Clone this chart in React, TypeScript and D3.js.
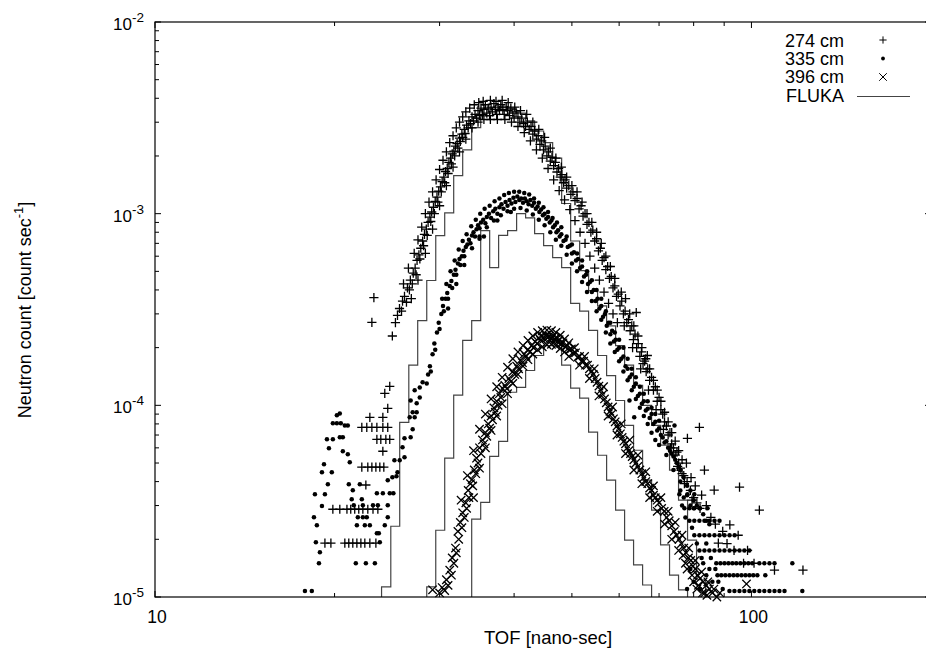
import React from 'react';
import * as d3 from 'd3';

// ---------- data (TOF in ns, neutron count in count/sec) ----------
const data274: [number, number][] = [
  [19.27,1.91e-5],[19.72,1.91e-5],[20.81,1.91e-5],[21.13,1.91e-5],[21.46,1.91e-5],[21.8,1.91e-5],[22.14,1.91e-5],[22.48,1.91e-5],[22.92,1.91e-5],[23.46,1.91e-5],
  [19.87,2.87e-5],[20.41,2.87e-5],[20.98,2.87e-5],[21.29,2.87e-5],[21.62,2.87e-5],[21.96,2.87e-5],[22.31,2.87e-5],[22.74,2.87e-5],[23.2,2.87e-5],[23.64,2.87e-5],
  [22.57,3.84e-5],
  [22.22,4.76e-5],[22.74,4.76e-5],[23.1,4.76e-5],[23.46,4.76e-5],[23.82,4.76e-5],[24.19,4.76e-5],
  [24.1,5.76e-5],
  [23.55,6.65e-5],[23.91,6.65e-5],[24.38,6.65e-5],[24.75,6.65e-5],
  [22.22,7.68e-5],[22.65,7.68e-5],[23.1,7.68e-5],[23.55,7.68e-5],[24.1,7.68e-5],[24.56,7.68e-5],
  [22.92,8.66e-5],[24.1,8.66e-5],[24.56,9.64e-5],[24.28,1.155e-4],[24.75,1.256e-4],
  [23.1,2.71e-4],[23.28,3.65e-4],
  [25.0,2.3e-4],[25.3,2.7e-4],[25.5,2.95e-4],[25.7,3.2e-4],[25.9,3.1e-4],[26.0,3.5e-4],[26.2,3.7e-4],[26.4,3.45e-4],[26.5,4.1e-4],[26.7,4.0e-4],
  [26.8,4.5e-4],[27.0,4.3e-4],[27.1,4.9e-4],[27.3,5.2e-4],[27.4,4.8e-4],[27.5,5.7e-4],[27.7,6.1e-4],[27.8,5.8e-4],[27.9,6.6e-4],[28.1,7.2e-4],
  [28.2,6.8e-4],[28.3,7.8e-4],[28.5,8.3e-4],[28.6,7.7e-4],[28.7,9.0e-4],[28.9,9.6e-4],[29.0,9.1e-4],[29.1,1.02e-3],[29.3,1.08e-3],[29.4,1.0e-3],
  [29.5,1.16e-3],[29.7,1.22e-3],[29.8,1.15e-3],[29.9,1.31e-3],[30.1,1.38e-3],[30.2,1.30e-3],[30.3,1.47e-3],[30.5,1.55e-3],[30.6,1.45e-3],[30.7,1.66e-3],
  [30.9,1.72e-3],[31.0,1.62e-3],[31.1,1.85e-3],[31.3,1.95e-3],[31.4,1.82e-3],[31.5,2.05e-3],[31.7,2.12e-3],[31.8,2.0e-3],[31.9,2.25e-3],[32.1,2.32e-3],
  [32.2,2.2e-3],[32.4,2.48e-3],[32.5,2.38e-3],[32.7,2.6e-3],[32.8,2.5e-3],[33.0,2.75e-3],[33.1,2.62e-3],[33.3,2.9e-3],[33.5,2.8e-3],[33.6,3.05e-3],
  [33.8,2.95e-3],[34.0,3.2e-3],[34.2,3.05e-3],[34.4,3.3e-3],[34.6,3.15e-3],[34.8,3.45e-3],[35.0,3.25e-3],[35.2,3.55e-3],[35.4,3.3e-3],[35.6,3.5e-3],
  [35.8,3.7e-3],[36.0,3.35e-3],[36.2,3.55e-3],[36.4,3.25e-3],[36.6,3.6e-3],[36.8,3.4e-3],[37.0,3.75e-3],[37.2,3.5e-3],[37.4,3.3e-3],[37.6,3.6e-3],
  [37.8,3.45e-3],[38.0,3.7e-3],[38.3,3.5e-3],[38.5,3.3e-3],[38.8,3.6e-3],[39.0,3.45e-3],[39.3,3.25e-3],[39.5,3.55e-3],[39.8,3.35e-3],[40.0,3.15e-3],
  [40.3,3.4e-3],[40.6,3.2e-3],[40.9,3.0e-3],[41.2,3.15e-3],[41.5,2.95e-3],[41.8,2.85e-3],[42.1,3.0e-3],[42.4,2.75e-3],[42.7,2.85e-3],[43.0,2.6e-3],
  [43.3,2.7e-3],[43.6,2.45e-3],[43.9,2.55e-3],[44.2,2.3e-3],[44.5,2.4e-3],[44.8,2.15e-3],[45.1,2.25e-3],[45.4,2.0e-3],[45.7,2.1e-3],[46.0,1.88e-3],
  [46.3,1.97e-3],[46.6,1.78e-3],[46.9,1.85e-3],[47.2,1.65e-3],[47.5,1.72e-3],[47.8,1.55e-3],[48.1,1.6e-3],[48.4,1.45e-3],[48.7,1.5e-3],[49.0,1.36e-3],
  [49.4,1.4e-3],[49.8,1.26e-3],[50.2,1.3e-3],[50.6,1.17e-3],[51.0,1.2e-3],[51.4,1.06e-3],[51.8,1.1e-3],[52.2,9.7e-4],[52.6,1.0e-3],[53.0,8.8e-4],
  [53.4,9.0e-4],[53.8,8.0e-4],[54.2,8.2e-4],[54.6,7.2e-4],[55.0,7.4e-4],[55.4,6.4e-4],[55.8,6.6e-4],[56.2,5.7e-4],[56.6,5.9e-4],[57.0,5.1e-4],
  [57.4,5.3e-4],[57.8,4.6e-4],[58.2,4.7e-4],[58.6,4.1e-4],[59.0,4.2e-4],[59.4,3.7e-4],[59.8,3.8e-4],[60.2,3.3e-4],[60.6,3.5e-4],[61.0,3.0e-4],
  [61.4,3.1e-4],[61.8,2.7e-4],[62.2,2.8e-4],[62.6,2.45e-4],[63.0,2.6e-4],[63.4,2.2e-4],[63.8,2.35e-4],[64.2,2.0e-4],[64.6,2.1e-4],[65.0,1.8e-4],
  [65.4,1.9e-4],[65.8,1.65e-4],[66.2,1.7e-4],[66.6,1.5e-4],[67.0,1.55e-4],[67.5,1.35e-4],[68.0,1.4e-4],[68.5,1.2e-4],[69.0,1.25e-4],[69.5,1.05e-4],
  [70.0,1.1e-4],[70.5,9.5e-5],[71.0,9.0e-5],[71.5,8.2e-5],[72.0,7.8e-5],[72.5,7.0e-5],[73.0,7.2e-5],[73.5,6.3e-5],[74.0,6.0e-5],[74.5,5.5e-5],
  [75.0,5.7e-5],[75.5,5.0e-5],[76.0,4.7e-5],[77.0,4.3e-5],[78.0,4.0e-5],[79.0,3.6e-5],[80.0,3.3e-5],[81.0,3.1e-5],[82.0,2.9e-5],
  [60.5,3.9e-4],[61.5,3.6e-4],[62.5,3.0e-4],[63.5,2.6e-4],[64.5,2.3e-4],[65.5,2.0e-4],[66.5,1.75e-4],[67.5,1.55e-4],[68.5,1.35e-4],[69.5,1.2e-4],
  [70.5,1.05e-4],[71.5,9.2e-5],[72.5,8.2e-5],[73.5,7.2e-5],[74.5,6.5e-5],[75.5,5.8e-5],[76.5,5.2e-5],
  [61.2,2.6e-4],[63.2,2.0e-4],[65.2,1.55e-4],[67.2,1.2e-4],[69.2,9.5e-5],[71.2,7.5e-5],[73.2,6.0e-5],[75.2,4.8e-5],[77.2,3.9e-5],[79.5,3.2e-5],
  [26.1,4.3e-4],[26.6,5.2e-4],[27.2,6.2e-4],[27.6,7.3e-4],[28.0,8.5e-4],[28.4,1.0e-3],[28.8,1.15e-3],[29.2,1.3e-3],[29.6,1.5e-3],[30.0,1.7e-3],
  [30.4,1.9e-3],[30.8,2.1e-3],[31.2,2.35e-3],[31.6,2.55e-3],[32.0,2.8e-3],[32.4,3.0e-3],[32.8,3.2e-3],[33.2,3.4e-3],[33.7,3.55e-3],[34.3,3.7e-3],
  [34.9,3.8e-3],[35.5,3.85e-3],[36.5,3.9e-3],[37.3,3.85e-3],[38.2,3.9e-3],[39.1,3.8e-3],[40.1,3.6e-3],[41.0,3.45e-3],[42.0,3.3e-3],[43.0,3.0e-3],
  [44.0,2.75e-3],[45.0,2.5e-3],[46.0,2.2e-3],[47.0,1.95e-3],[48.0,1.75e-3],[49.0,1.55e-3],[50.0,1.4e-3],[51.0,1.3e-3],[52.0,1.15e-3],[53.0,1.0e-3],
  [54.0,9.0e-4],[55.0,8.0e-4],[56.0,7.0e-4],[57.0,6.0e-4],[58.0,5.3e-4],[59.0,4.6e-4],
  [26.9,3.6e-4],[27.6,4.5e-4],[28.4,6.2e-4],[29.2,8.3e-4],[30.0,1.1e-3],[30.8,1.4e-3],[31.6,1.75e-3],[32.4,2.1e-3],[33.2,2.45e-3],[34.0,2.8e-3],
  [34.8,3.0e-3],[35.6,3.1e-3],[36.5,3.1e-3],[37.5,3.1e-3],[38.6,3.1e-3],[39.6,3.0e-3],[40.6,2.85e-3],[41.6,2.65e-3],[42.6,2.4e-3],[43.6,2.15e-3],
  [44.6,1.95e-3],[45.6,1.72e-3],[46.6,1.5e-3],[47.6,1.32e-3],[48.6,1.18e-3],[49.6,1.05e-3],[50.6,9.2e-4],[51.6,8.0e-4],[52.6,7.0e-4],[53.6,6.0e-4],
  [54.6,5.2e-4],[55.6,4.5e-4],[56.6,3.9e-4],[57.6,3.4e-4],[58.6,3.0e-4],[59.6,2.7e-4],
  [81.8,7.68e-5],[78.1,6.73e-5],[64.1,3.05e-4],[66.9,1.82e-4],[83.4,4.59e-5],[86.6,3.61e-5],[95.5,3.74e-5],[103.1,2.84e-5],
  [109.3,1.38e-5],[122.0,1.38e-5],[88.0,1.91e-5],[92.0,2.38e-5],[97.0,1.5e-5],
  [76.5,4.4e-5],[77.8,5.0e-5],[79.2,4.2e-5],[80.5,3.8e-5],[82.5,3.4e-5],[84.0,3.0e-5],[85.5,2.6e-5],[87.0,2.4e-5],[89.5,2.2e-5],[91.0,1.9e-5],
  [93.5,1.75e-5],[95.0,2.1e-5],[98.5,1.75e-5],[101.0,1.5e-5],
];

const data335: [number, number][] = [
  [17.84,1.075e-5],[18.32,1.075e-5],[18.47,2.61e-5],[18.61,1.93e-5],[18.68,2.37e-5],[18.9,1.71e-5],[18.83,1.5e-5],[19.05,2.98e-5],
  [18.54,3.44e-5],[19.27,3.44e-5],[19.05,4.48e-5],[19.79,4.48e-5],[19.2,4.93e-5],[19.49,3.87e-5],[19.57,5.97e-5],
  [19.42,6.65e-5],[19.87,6.65e-5],[20.41,6.81e-5],[20.65,6.81e-5],
  [19.87,8.06e-5],[20.18,8.06e-5],[20.49,8.06e-5],[20.81,7.86e-5],[21.05,7.86e-5],[20.18,8.87e-5],[20.41,9.07e-5],
  [20.65,5.76e-5],[21.05,5.55e-5],[21.21,5.05e-5],[21.13,3.87e-5],[22.05,3.87e-5],[21.46,3.61e-5],[21.37,3.24e-5],[22.22,3.24e-5],
  [21.54,3.01e-5],[22.31,3.01e-5],[23.2,3.01e-5],[21.88,2.61e-5],[22.31,2.61e-5],[22.65,2.61e-5],[21.8,2.37e-5],[22.48,2.37e-5],[22.92,2.37e-5],
  [23.82,1.93e-5],[21.71,1.5e-5],[22.57,1.5e-5],[23.37,1.5e-5],
  [23.55,3.48e-5],[24.1,3.48e-5],[24.75,3.48e-5],[25.1,3.48e-5],[23.64,3.01e-5],[24.56,3.01e-5],[24.56,2.61e-5],[24.28,2.37e-5],[23.55,2.15e-5],[23.73,2.15e-5],
  [24.56,4.07e-5],[25.0,4.21e-5],[25.4,4.26e-5],[25.5,4.48e-5],[25.2,5.17e-5],[25.72,5.17e-5],[26.2,5.36e-5],[26.0,6.04e-5],[26.2,6.73e-5],[26.83,6.81e-5],
  [27.04,7.5e-5],[26.73,8.66e-5],[27.04,9.2e-5],[27.46,9.2e-5],[27.25,8.66e-5],[26.83,1.06e-4],[27.46,1.025e-4],[27.79,1.1e-4],[27.25,1.197e-4],[27.79,1.24e-4],
  [28.1,1.32e-4],[28.55,1.3e-4],
  [28.7,1.45e-4],[28.9,1.6e-4],[29.0,1.5e-4],[29.2,1.85e-4],[29.4,2.1e-4],[29.5,1.95e-4],[29.7,2.4e-4],[29.9,2.7e-4],[30.0,2.5e-4],[30.2,3.0e-4],
  [30.4,3.3e-4],[30.5,3.1e-4],[30.7,3.6e-4],[30.9,3.85e-4],[31.0,3.6e-4],[31.2,4.2e-4],[31.4,4.45e-4],[31.5,4.1e-4],[31.7,4.8e-4],[31.9,5.1e-4],
  [32.0,4.8e-4],[32.2,5.5e-4],[32.4,5.8e-4],[32.5,5.4e-4],[32.7,6.0e-4],[32.9,6.4e-4],[33.0,6.0e-4],[33.2,6.7e-4],[33.4,6.9e-4],[33.6,7.3e-4],
  [33.8,7.0e-4],[34.0,7.7e-4],[34.2,8.0e-4],[34.4,7.6e-4],[34.6,8.3e-4],[34.8,8.7e-4],[35.0,8.4e-4],[35.2,9.0e-4],[35.5,9.3e-4],[35.8,8.9e-4],
  [36.0,9.6e-4],[36.3,1.0e-3],[36.6,9.5e-4],[36.9,1.03e-3],[37.2,1.06e-3],[37.5,1.0e-3],[37.8,1.08e-3],[38.1,1.12e-3],[38.4,1.06e-3],[38.7,1.15e-3],
  [39.0,1.1e-3],[39.3,1.18e-3],[39.6,1.13e-3],[39.9,1.21e-3],[40.2,1.15e-3],[40.5,1.23e-3],[40.8,1.18e-3],[41.1,1.2e-3],[41.4,1.14e-3],[41.7,1.2e-3],
  [42.0,1.16e-3],[42.3,1.12e-3],[42.6,1.18e-3],[42.9,1.1e-3],[43.2,1.14e-3],[43.5,1.06e-3],[43.8,1.09e-3],[44.1,1.02e-3],[44.4,1.05e-3],[44.7,9.8e-4],
  [45.0,1.0e-3],[45.3,9.4e-4],[45.6,9.6e-4],[45.9,9.0e-4],[46.2,9.2e-4],[46.5,8.5e-4],[46.8,8.7e-4],[47.1,8.0e-4],[47.4,8.2e-4],[47.7,7.6e-4],
  [48.0,7.8e-4],[48.4,7.2e-4],[48.8,7.3e-4],[49.2,6.7e-4],[49.6,6.8e-4],[50.0,6.2e-4],[50.4,6.3e-4],[50.8,5.7e-4],[51.2,5.8e-4],[51.6,5.2e-4],
  [52.0,5.3e-4],[52.4,4.7e-4],[52.8,4.8e-4],[53.2,4.3e-4],[53.6,4.4e-4],[54.0,3.9e-4],[54.4,4.0e-4],[54.8,3.5e-4],[55.2,3.6e-4],[55.6,3.2e-4],
  [56.0,3.3e-4],[56.4,2.9e-4],[56.8,3.0e-4],[57.2,2.6e-4],[57.6,2.7e-4],[58.0,2.35e-4],[58.4,2.45e-4],[58.8,2.15e-4],[59.2,2.2e-4],[59.6,1.95e-4],
  [60.0,2.0e-4],[60.5,1.75e-4],[61.0,1.8e-4],[61.5,1.6e-4],[62.0,1.55e-4],[62.5,1.4e-4],[63.0,1.45e-4],[63.5,1.25e-4],[64.0,1.3e-4],[64.5,1.12e-4],
  [65.0,1.15e-4],[65.5,1.02e-4],[66.0,1.05e-4],[66.5,9.4e-5],[67.0,9.6e-5],[67.5,8.6e-5],[68.0,9.0e-5],[68.5,8.0e-5],[69.0,8.2e-5],[69.5,7.4e-5],
  [70.0,7.6e-5],[70.5,7.0e-5],[71.0,6.8e-5],[71.5,6.4e-5],[72.0,6.5e-5],[72.5,6.0e-5],[73.0,5.8e-5],[73.5,5.6e-5],[74.0,5.4e-5],[74.5,5.2e-5],
  [75.0,5.0e-5],[75.5,4.8e-5],[76.0,4.6e-5],[77.0,4.2e-5],[78.0,3.8e-5],[79.0,3.6e-5],[80.0,3.2e-5],[81.0,3.0e-5],[82.0,2.9e-5],[83.0,2.7e-5],
  [84.0,2.5e-5],[85.0,2.4e-5],
  [30.3,3.6e-4],[30.8,4.3e-4],[31.3,5.0e-4],[31.8,5.7e-4],[32.3,6.5e-4],[32.8,7.2e-4],[33.3,7.8e-4],[33.9,8.6e-4],[34.5,9.3e-4],[35.1,1.0e-3],
  [35.7,1.06e-3],[36.4,1.1e-3],[37.1,1.16e-3],[37.8,1.2e-3],[38.5,1.25e-3],[39.2,1.28e-3],[40.0,1.3e-3],[40.8,1.3e-3],[41.6,1.28e-3],[42.4,1.26e-3],
  [43.2,1.2e-3],[44.0,1.14e-3],[44.8,1.08e-3],[45.6,1.02e-3],[46.4,9.5e-4],[47.2,9.0e-4],[48.0,8.5e-4],[49.0,7.6e-4],[50.0,6.9e-4],[51.0,6.2e-4],
  [52.0,5.7e-4],[53.0,5.0e-4],[54.0,4.5e-4],[55.0,4.0e-4],[56.0,3.6e-4],[57.0,3.1e-4],[58.0,2.7e-4],[59.0,2.4e-4],[60.0,2.2e-4],[61.0,2.0e-4],
  [62.0,1.75e-4],[63.0,1.55e-4],[64.0,1.4e-4],[65.0,1.25e-4],[66.0,1.15e-4],[67.0,1.05e-4],[68.0,9.7e-5],[69.0,9.0e-5],[70.0,8.3e-5],
  [31.0,3.2e-4],[32.0,4.3e-4],[33.0,5.4e-4],[34.0,6.6e-4],[35.0,7.6e-4],[36.0,8.5e-4],[37.0,9.2e-4],[38.0,9.8e-4],[39.0,1.03e-3],[40.0,1.06e-3],
  [41.0,1.07e-3],[42.0,1.04e-3],[43.0,9.9e-4],[44.0,9.3e-4],[45.0,8.7e-4],[46.0,8.0e-4],[47.0,7.3e-4],[48.0,6.8e-4],[49.0,6.1e-4],[50.0,5.5e-4],
  [51.0,5.0e-4],[52.0,4.4e-4],[53.0,3.9e-4],[54.0,3.5e-4],[55.0,3.1e-4],[56.0,2.8e-4],[57.0,2.4e-4],[58.0,2.1e-4],[59.0,1.9e-4],[60.0,1.7e-4],
  [61.0,1.5e-4],[62.0,1.35e-4],[63.0,1.2e-4],[64.0,1.08e-4],[65.0,9.7e-5],[66.0,8.8e-5],[67.0,8.0e-5],[68.0,7.2e-5],[69.0,6.6e-5],[70.0,6.2e-5],
  [72.0,5.5e-5],[74.0,4.6e-5],[76.0,4.0e-5],[78.0,3.4e-5],[80.0,2.9e-5],
  [35.0,7.4e-4],[35.6,7.6e-4],[37.5,9.2e-4],[39.5,1.02e-3],[62.44,1.06e-4],[63.6,8.66e-5],[74.3,7.86e-5],
  [78.0,1.1e-5],[80.0,1.2e-5],[82.0,1.1e-5],[84.0,1.3e-5],[86.0,1.2e-5],[79.0,1.4e-5],[83.0,1.5e-5],[85.0,1.4e-5],
  [76.5,3.0e-5],[77.5,2.6e-5],[79.5,2.3e-5],[81.0,1.9e-5],[82.5,1.6e-5],[84.0,1.9e-5],[85.5,1.6e-5],[87.0,1.4e-5],[88.0,1.2e-5],[89.5,1.1e-5],
  [76.0,3.6e-5],[77.0,3.3e-5],[79.0,3.0e-5],
  [91.86,1.075e-5],[93.65,1.075e-5],[95.48,1.075e-5],[97.3,1.075e-5],[99.2,1.075e-5],[101.1,1.075e-5],[103.1,1.075e-5],[105.1,1.075e-5],[107.2,1.075e-5],[109.3,1.075e-5],[111.4,1.075e-5],[113.6,1.075e-5],[121.7,1.075e-5],
  [87.7,1.3e-5],[89.0,1.3e-5],[90.4,1.3e-5],[91.86,1.3e-5],[93.3,1.3e-5],[94.7,1.3e-5],[96.2,1.3e-5],[97.7,1.3e-5],[99.2,1.3e-5],[100.7,1.3e-5],[102.3,1.3e-5],[105.5,1.3e-5],
  [87.3,1.5e-5],[88.7,1.5e-5],[90.1,1.5e-5],[91.5,1.5e-5],[92.9,1.5e-5],[94.3,1.5e-5],[95.8,1.5e-5],[97.3,1.5e-5],[98.8,1.5e-5],[100.3,1.5e-5],[103.1,1.5e-5],[105.1,1.5e-5],[107.2,1.5e-5],[109.3,1.5e-5],[117.1,1.5e-5],
  [81.8,1.75e-5],[83.4,1.75e-5],[85.0,1.75e-5],[86.7,1.75e-5],[88.4,1.75e-5],[90.1,1.75e-5],[91.9,1.75e-5],[93.7,1.75e-5],[95.5,1.75e-5],[97.3,1.75e-5],[99.2,1.75e-5],
  [80.2,2.1e-5],[81.8,2.1e-5],[83.4,2.1e-5],[85.0,2.1e-5],[86.7,2.1e-5],[88.4,2.1e-5],[90.1,2.1e-5],[91.9,2.1e-5],[93.7,2.1e-5],
  [78.7,2.5e-5],[80.2,2.5e-5],[81.8,2.5e-5],[83.4,2.5e-5],[85.0,2.5e-5],[86.7,2.5e-5],[88.4,2.5e-5],
  [77.2,2.9e-5],[78.7,2.9e-5],[80.2,2.9e-5],[81.8,2.9e-5],[84.4,2.9e-5],
  [75.7,3.44e-5],[78.1,3.44e-5],[80.2,3.44e-5],
];

const data396: [number, number][] = [
  [29.2,1.09e-5],[30.0,1.05e-5],[30.3,1.12e-5],[30.6,1.08e-5],[30.8,1.23e-5],[31.0,1.15e-5],[31.2,1.38e-5],[31.4,1.3e-5],[31.5,1.6e-5],[31.7,1.5e-5],
  [31.9,1.8e-5],[32.0,1.7e-5],[32.2,2.2e-5],[32.3,2.0e-5],[32.5,2.45e-5],[32.7,2.3e-5],[32.8,2.75e-5],[33.0,2.6e-5],[33.2,3.1e-5],[33.3,2.9e-5],
  [33.5,3.6e-5],[33.6,3.3e-5],[33.8,3.9e-5],[34.0,4.1e-5],[34.1,3.8e-5],[34.3,4.6e-5],[34.5,4.4e-5],[34.6,5.3e-5],[34.8,5.0e-5],[35.0,6.0e-5],
  [35.2,5.6e-5],[35.4,6.6e-5],[35.6,6.3e-5],[35.8,7.2e-5],[36.0,6.9e-5],[36.2,8.0e-5],[36.4,7.6e-5],[36.6,8.8e-5],[36.8,8.4e-5],[37.0,9.7e-5],
  [37.2,9.2e-5],[37.4,1.05e-4],[37.6,1.0e-4],[37.8,1.15e-4],[38.0,1.1e-4],[38.3,1.22e-4],[38.6,1.27e-4],[38.9,1.22e-4],[39.2,1.38e-4],[39.5,1.33e-4],
  [39.8,1.5e-4],[40.1,1.45e-4],[40.4,1.6e-4],[40.7,1.55e-4],[41.0,1.72e-4],[41.3,1.67e-4],[41.6,1.85e-4],[41.9,1.8e-4],[42.2,1.95e-4],[42.5,1.9e-4],
  [42.8,2.05e-4],[43.1,2.0e-4],[43.4,2.15e-4],[43.7,2.1e-4],[44.0,2.25e-4],[44.3,2.18e-4],[44.6,2.3e-4],[44.9,2.22e-4],[45.2,2.32e-4],[45.5,2.25e-4],
  [45.8,2.3e-4],[46.1,2.22e-4],[46.4,2.28e-4],[46.7,2.2e-4],[47.0,2.25e-4],[47.3,2.15e-4],[47.6,2.2e-4],[47.9,2.1e-4],[48.3,2.12e-4],[48.7,2.02e-4],
  [49.1,2.05e-4],[49.5,1.95e-4],[49.9,1.97e-4],[50.3,1.87e-4],[50.7,1.88e-4],[51.1,1.78e-4],[51.5,1.8e-4],[51.9,1.7e-4],[52.3,1.7e-4],[52.7,1.62e-4],
  [53.1,1.62e-4],[53.5,1.55e-4],[53.9,1.5e-4],[54.3,1.45e-4],[54.7,1.38e-4],[55.1,1.32e-4],[55.5,1.26e-4],[55.9,1.2e-4],[56.3,1.14e-4],[56.7,1.08e-4],
  [57.1,1.03e-4],[57.5,9.8e-5],[57.9,9.3e-5],[58.3,9.0e-5],[58.7,8.5e-5],[59.1,8.2e-5],[59.5,7.8e-5],[59.9,7.5e-5],[60.3,7.1e-5],[60.7,6.8e-5],
  [61.1,6.5e-5],[61.5,6.3e-5],[61.9,6.0e-5],[62.3,5.8e-5],[62.7,5.6e-5],[63.1,5.4e-5],[63.5,5.2e-5],[64.0,5.0e-5],[64.5,4.8e-5],[65.0,4.6e-5],
  [65.5,4.4e-5],[66.0,4.2e-5],[66.5,4.0e-5],[67.0,3.9e-5],[67.5,3.7e-5],[68.0,3.6e-5],[68.5,3.4e-5],[69.0,3.3e-5],[69.5,3.2e-5],[70.0,3.1e-5],
  [70.7,2.9e-5],[71.4,2.8e-5],[72.1,2.6e-5],[72.8,2.5e-5],[73.5,2.35e-5],[74.2,2.2e-5],[74.9,2.1e-5],[75.6,2.0e-5],[76.3,1.9e-5],[77.0,1.8e-5],
  [77.7,1.7e-5],[78.4,1.6e-5],[79.1,1.55e-5],[79.8,1.45e-5],[80.5,1.4e-5],[81.2,1.3e-5],[82.0,1.25e-5],[83.0,1.2e-5],[84.0,1.15e-5],[85.0,1.1e-5],
  [86.0,1.05e-5],[87.5,1.0e-5],[98.1,1.17e-5],
  [50.5,2.0e-4],[52.5,1.8e-4],[54.5,1.55e-4],[56.5,1.25e-4],[58.5,9.8e-5],[60.5,8.0e-5],[62.5,6.6e-5],[64.5,5.5e-5],[66.5,4.5e-5],[68.5,3.8e-5],
  [70.5,3.3e-5],[72.5,2.8e-5],[74.5,2.45e-5],[76.5,2.1e-5],[78.5,1.8e-5],[80.5,1.55e-5],[82.5,1.35e-5],[84.5,1.2e-5],
  [51.5,1.62e-4],[53.5,1.38e-4],[55.5,1.12e-4],[57.5,8.8e-5],[59.5,7.0e-5],[61.5,5.6e-5],[63.5,4.6e-5],[65.5,3.9e-5],[67.5,3.3e-5],[69.5,2.8e-5],
  [71.5,2.4e-5],[73.5,2.0e-5],[75.5,1.75e-5],[77.5,1.5e-5],[79.5,1.3e-5],[81.5,1.15e-5],[83.5,1.05e-5],
  [32.6,3.2e-5],[33.4,4.3e-5],[34.2,5.8e-5],[35.0,7.5e-5],[35.8,9.0e-5],[36.6,1.08e-4],[37.4,1.25e-4],[38.2,1.4e-4],[39.0,1.58e-4],[39.8,1.75e-4],
  [40.6,1.9e-4],[41.4,2.05e-4],[42.2,2.18e-4],[43.0,2.3e-4],[43.8,2.4e-4],[44.6,2.45e-4],[45.4,2.47e-4],[46.2,2.45e-4],[47.0,2.4e-4],[47.8,2.32e-4],
  [48.6,2.22e-4],[49.4,2.12e-4],
  [34.2,3.3e-5],[35.0,4.7e-5],[35.8,6.0e-5],[36.6,7.4e-5],[37.4,8.8e-5],[38.2,1.02e-4],[39.0,1.15e-4],[39.8,1.3e-4],[40.6,1.45e-4],[41.4,1.6e-4],
  [42.2,1.73e-4],[43.0,1.85e-4],[43.8,1.95e-4],[44.6,2.02e-4],[45.4,2.07e-4],[46.2,2.08e-4],[47.0,2.05e-4],[47.8,1.98e-4],[48.6,1.9e-4],[49.4,1.8e-4],
  [80.0,1.2e-5],[81.0,1.1e-5],[82.8,1.05e-5],[84.2,1.02e-5],[86.5,1.1e-5],[88.5,1.05e-5],[78.0,1.4e-5],[76.8,1.65e-5],
];

// FLUKA histogram bin edges (ns) and bin contents
const flukaEdges = [23.98,24.85,25.72,26.64,27.57,28.55,29.56,30.60,31.68,32.80,33.96,35.16,36.40,37.68,39.01,40.39,41.82,43.30,44.83,46.42,48.06,49.76,51.52,53.33,55.21,57.17,59.19,61.28,63.44,65.69,68.01,70.41,72.89,75.47,78.14,80.90,83.75];
const fluka274First = 0;
const fluka274 = [1.13e-5,2.34e-5,8.15e-5,1.62e-4,2.77e-4,4.48e-4,7.68e-4,1.01e-3,1.58e-3,2.15e-3,2.81e-3,3.24e-3,3.5e-3,3.6e-3,3.5e-3,3.35e-3,3.05e-3,2.7e-3,2.35e-3,1.95e-3,1.13e-3,7.2e-4,5.05e-4,3.97e-4,3.3e-4,2.6e-4,2.05e-4,1.62e-4,1.27e-4,1.0e-4,7.86e-5,6.2e-5,4.59e-5,3.2e-5,1.98e-5,1.23e-5];
const fluka335First = 5;
const fluka335 = [1.13e-5,2.23e-5,5.3e-5,1.13e-4,2.18e-4,2.77e-4,8.16e-4,5.23e-4,7.7e-4,8.16e-4,1.0e-3,9.5e-4,7.87e-4,6.81e-4,5.9e-4,5.23e-4,3.4e-4,3.1e-4,2.46e-4,1.82e-4,1.43e-4,1.06e-4,7.86e-5,5.83e-5,4.07e-5,2.84e-5,1.87e-5,1.3e-5,1.09e-5];
const fluka396First = 10;
const fluka396 = [2.55e-5,3.12e-5,5.42e-5,6.49e-5,1.17e-4,1.24e-4,1.52e-4,1.82e-4,2.05e-4,2.18e-4,1.62e-4,1.23e-4,1.09e-4,7.24e-5,5.49e-5,4.07e-5,2.84e-5,1.98e-5,1.47e-5,1.155e-5];

const xMajor = [10, 100];
const xMinor = [20, 30, 40, 50, 60, 70, 80, 90, 200];
const yMajorExp = [-5, -4, -3, -2];
const legendLabels = ['274 cm', '335 cm', '396 cm', 'FLUKA'];
const xTitle = 'TOF [nano-sec]';
const yTitle = 'Neutron count [count sec';

// ---------- layout ----------
const W = 926, H = 660;
const L = 155, T = 22, R = 931, B = 597;
const FONT = '"Liberation Sans", Arial, Helvetica, sans-serif';

const x = d3.scaleLog().domain([10, 200]).range([L, R]);
const y = d3.scaleLog().domain([1e-5, 1e-2]).range([B, T]);

function histPath(first: number, vals: number[]) {
  const pts: [number, number][] = [[flukaEdges[first], 1e-5]];
  vals.forEach((v, i) => pts.push([flukaEdges[first + i], v]));
  pts.push([flukaEdges[first + vals.length], vals[vals.length - 1]]);
  pts.push([flukaEdges[first + vals.length], 1e-5]);
  return d3.line<[number, number]>().x(d => x(d[0])).y(d => y(d[1])).curve(d3.curveStepAfter)(pts) || '';
}

const plusPath = (s: number) => `M${-s},0H${s}M0,${-s}V${s}`;
const crossPath = (s: number) => `M${-s},${-s}L${s},${s}M${-s},${s}L${s},${-s}`;

const inside = (d: [number, number]) => d[1] >= 1e-5 && d[1] <= 1e-2 && d[0] >= 10 && d[0] <= 200;

export default function App() {
  const yMinor: number[] = [];
  yMajorExp.slice(0, 3).forEach(e => { for (let k = 2; k <= 9; k++) yMinor.push(k * Math.pow(10, e)); });
  const histColor = '#444';
  return (
    <div style={{ position: 'absolute', left: 0, top: 0 }}>
      <svg width={W} height={H} style={{ display: 'block', background: '#fff' }} fontFamily={FONT}>
        <defs>
          <clipPath id="plotclip"><rect x={L} y={T} width={R - L} height={B - T} /></clipPath>
        </defs>
        <g clipPath="url(#plotclip)" fill="none" stroke={histColor} strokeWidth={1.2}>
          <path d={histPath(fluka274First, fluka274)} />
          <path d={histPath(fluka335First, fluka335)} />
          <path d={histPath(fluka396First, fluka396)} />
        </g>
        <g stroke="#000" strokeWidth={1.3} fill="none">
          {data274.filter(inside).map((d, i) => (
            <path key={'a' + i} d={plusPath(4.6)} transform={`translate(${x(d[0])},${y(d[1])})`} />
          ))}
          {data396.filter(inside).map((d, i) => (
            <path key={'c' + i} d={crossPath(4.2)} transform={`translate(${x(d[0])},${y(d[1])})`} />
          ))}
        </g>
        <g fill="#000">
          {data335.filter(inside).map((d, i) => (
            <circle key={'b' + i} cx={x(d[0])} cy={y(d[1])} r={2.25} />
          ))}
        </g>
        <rect x={L} y={T} width={R - L} height={B - T} fill="none" stroke="#000" strokeWidth={1.2} />
        <g stroke="#000" strokeWidth={1}>
          {xMajor.map(v => (
            <g key={'xm' + v}>
              <line x1={x(v)} x2={x(v)} y1={B} y2={B - 6} />
              <line x1={x(v)} x2={x(v)} y1={T} y2={T + 6} />
            </g>
          ))}
          {xMinor.map(v => (
            <g key={'xn' + v}>
              <line x1={x(v)} x2={x(v)} y1={B} y2={B - 4} />
              <line x1={x(v)} x2={x(v)} y1={T} y2={T + 4} />
            </g>
          ))}
          {yMajorExp.map(e => (
            <g key={'ym' + e}>
              <line x1={L} x2={L + 6} y1={y(Math.pow(10, e))} y2={y(Math.pow(10, e))} />
              <line x1={R} x2={R - 6} y1={y(Math.pow(10, e))} y2={y(Math.pow(10, e))} />
            </g>
          ))}
          {yMinor.map((v, i) => (
            <g key={'yn' + i}>
              <line x1={L} x2={L + 4} y1={y(v)} y2={y(v)} />
              <line x1={R} x2={R - 4} y1={y(v)} y2={y(v)} />
            </g>
          ))}
        </g>
        <g fontSize={17.5} textAnchor="middle" fill="#000">
          {xMajor.map(v => (
            <text key={'xl' + v} x={x(v) + 2} y={B + 26}>{String(v)}</text>
          ))}
        </g>
        <g fill="#000">
          {yMajorExp.map(e => (
            <text key={'yl' + e} x={144} y={y(Math.pow(10, e)) + 8} textAnchor="end" fontSize={17}>
              10<tspan fontSize={13.5} dy={-8}>{String(e)}</tspan>
            </text>
          ))}
        </g>
        <text x={548} y={644} textAnchor="middle" fontSize={18.5} fill="#000">{xTitle}</text>
        <text transform="translate(31,310) rotate(-90)" textAnchor="middle" fontSize={18} fill="#000">
          {yTitle}<tspan fontSize={13} dy={-8}>-1</tspan><tspan dy={8}>]</tspan>
        </text>
        <g fill="#000" fontSize={18} textAnchor="end">
          {legendLabels.map((s, i) => (
            <text key={'lg' + i} x={844} y={46.5 + i * 18.4}>{s}</text>
          ))}
        </g>
        <g stroke="#000" strokeWidth={1} fill="none">
          <path d={plusPath(3.6)} transform="translate(883,40)" />
          <path d={crossPath(3.8)} transform="translate(883,77)" />
        </g>
        <circle cx={883} cy={58.5} r={1.9} fill="#000" />
        <line x1={857} x2={910} y1={96.5} y2={96.5} stroke={histColor} strokeWidth={1.2} />
      </svg>
    </div>
  );
}
